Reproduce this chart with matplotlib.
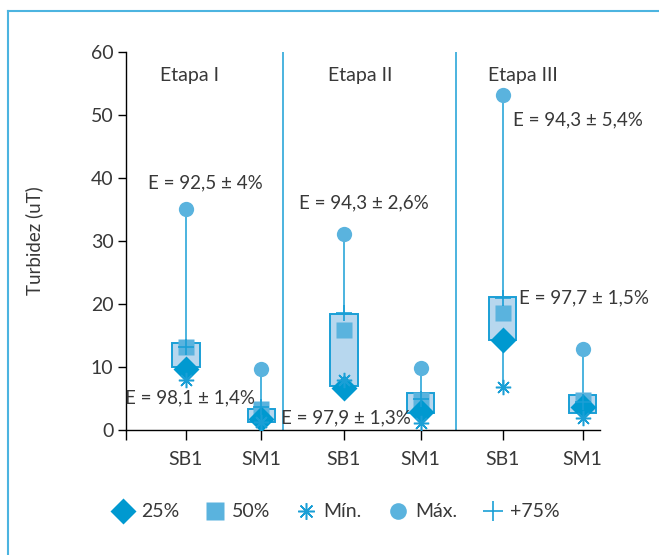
import matplotlib
matplotlib.use("Agg")
import matplotlib.pyplot as plt
from matplotlib.lines import Line2D

# --- data: turbidity per stage and sampling point ---
stages = ["Etapa I", "Etapa II", "Etapa III"]
groups = ["SB1", "SM1", "SB1", "SM1", "SB1", "SM1"]
x_pos = [0.79, 1.78, 2.87, 3.88, 4.96, 6.01]
stage_x = [0.83, 3.08, 5.22]
divider_x = [2.07, 4.34]

q25 = [9.7, 1.7, 6.7, 2.9, 14.3, 3.7]
q50 = [13.1, 3.3, 15.9, 4.8, 18.5, 4.8]
p75 = [13.2, 3.6, 18.6, 4.9, 20.9, 4.4]
v_min = [7.9, 1.3, 7.9, 1.1, 6.8, 1.9]
v_max = [35.1, 9.7, 31.1, 9.9, 53.2, 12.9]
box_lo = [10.0, 1.3, 7.0, 2.7, 14.3, 2.7]
box_hi = [13.8, 3.3, 18.4, 5.9, 21.1, 5.5]

efficiency = ["E = 92,5 ± 4%", "E = 98,1 ± 1,4%", "E = 94,3 ± 2,6%",
              "E = 97,9 ± 1,3%", "E = 94,3 ± 5,4%", "E = 97,7 ± 1,5%"]
eff_x = [1.04, 0.84, 3.13, 2.89, 5.95, 6.03]
eff_y = [39.2, 5.1, 36.0, 1.9, 49.2, 21.0]

# --- style ---
plt.rcParams["font.family"] = ["Lato", "DejaVu Sans"]
TXT = "#383838"
LINE = "#1a9fd6"
DIAMOND = "#0099d0"
SQUARE = "#5ab3de"
BOXFILL = "#b7d7ee"

fig = plt.figure(figsize=(6.59, 5.55), dpi=100)
ax = fig.add_axes([0.1912, 0.2252, 0.7193, 0.6811])

# whiskers from max down to min
for x, lo, hi in zip(x_pos, v_min, v_max):
    ax.plot([x, x], [lo, hi], color=LINE, lw=1.1, zorder=1)

# boxes
heights = [h - l for l, h in zip(box_lo, box_hi)]
ax.bar(x_pos, heights, bottom=box_lo, width=0.36, color=BOXFILL,
       edgecolor=LINE, linewidth=1.4, zorder=2)

ax.plot(x_pos, q50, ls="none", marker="s", ms=12, color=SQUARE, mec="none", zorder=3)
ax.plot(x_pos, q25, ls="none", marker="D", ms=13, color=DIAMOND, mec="none", zorder=4)
ax.plot(x_pos, p75, ls="none", marker="+", ms=12, mew=1.2, color=LINE, zorder=5)
ax.plot(x_pos, v_min, ls="none", marker=(8, 2, 0), ms=11, mew=1.1, mec=LINE, zorder=5)
ax.plot(x_pos, v_max, ls="none", marker="o", ms=11, color=SQUARE, mec="none", zorder=5)

# stage dividers and titles
for dx in divider_x:
    ax.plot([dx, dx], [0, 60], color=LINE, lw=1.1, zorder=0)
for sx, name in zip(stage_x, stages):
    ax.text(sx, 56.3, name, ha="center", va="center", fontsize=14, color=TXT)

for tx, ty, t in zip(eff_x, eff_y, efficiency):
    ax.text(tx, ty, t, ha="center", va="center", fontsize=13.5, color=TXT, zorder=6)

ax.set_xlim(0, 6.24)
ax.set_ylim(0, 60)
ax.set_yticks(range(0, 61, 10))
ax.set_xticks([0] + x_pos)
ax.set_xticklabels([""] + groups)
ax.tick_params(axis="y", length=6, width=1, pad=3, labelsize=14, labelcolor=TXT, direction="out")
ax.tick_params(axis="x", length=7, width=1, pad=8, labelsize=14, labelcolor=TXT, direction="out")
for s in ("top", "right"):
    ax.spines[s].set_visible(False)
for s in ("left", "bottom"):
    ax.spines[s].set_linewidth(1.0)
ax.set_ylabel("Turbidez (uT)", fontsize=13.5, color=TXT, labelpad=34)

# legend below the plot
handles = [
    Line2D([], [], ls="none", marker="D", ms=13, color=DIAMOND, mec="none"),
    Line2D([], [], ls="none", marker="s", ms=13, color=SQUARE, mec="none"),
    Line2D([], [], ls="none", marker=(8, 2, 0), ms=12, mew=1.1, mec=LINE),
    Line2D([], [], ls="none", marker="o", ms=12, color=SQUARE, mec="none"),
    Line2D([], [], ls="none", marker="+", ms=14, mew=1.2, color=LINE),
]
fig.legend(handles, ["25%", "50%", "Mín.", "Máx.", "+75%"], loc="center",
           bbox_to_anchor=(0.511, 0.0775), ncol=5, frameon=False, fontsize=14,
           handlelength=1.0, handletextpad=0.4, columnspacing=1.33, labelcolor=TXT)

# light blue frame along top and left edges
fig.add_artist(Line2D([0.0125, 1.0], [1 - 11 / 555, 1 - 11 / 555], color="#4cb4e0", lw=1.5))
fig.add_artist(Line2D([0.0125, 0.0125], [0.0, 1 - 11 / 555], color="#4cb4e0", lw=1.5))

fig.savefig("out.png", dpi=100)
